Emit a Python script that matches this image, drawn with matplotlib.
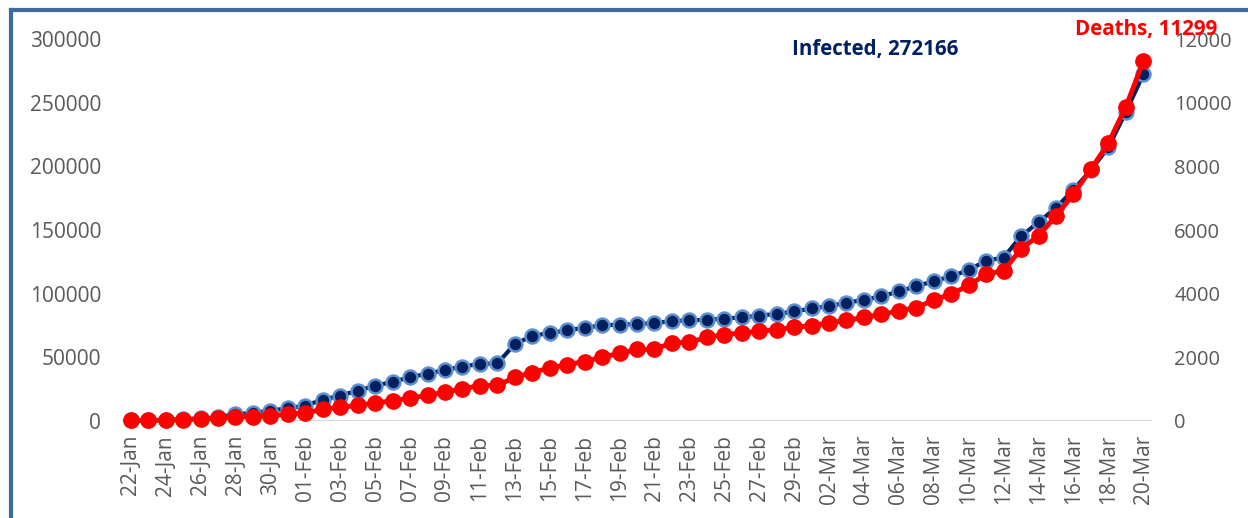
import matplotlib.pyplot as plt
from matplotlib.lines import Line2D
import numpy as np
import pandas as pd

# data: 22-Jan .. 20-Mar
dates = pd.date_range("2020-01-22", "2020-03-20", freq="D")
infected = [555, 654, 941, 1434, 2118, 2927, 5578, 6166, 8234, 9927,
            12038, 16787, 19881, 23892, 27635, 30794, 34391, 37120, 40150, 42762,
            44802, 45221, 60368, 66885, 69030, 71224, 73258, 75136, 75639, 76197,
            76819, 78572, 78958, 79561, 80406, 81388, 82746, 84112, 86011,
            88369, 90306, 92840, 95120, 97886, 101801, 105847, 109821, 113590, 118620,
            125875, 128352, 145205, 156101, 167454, 181574, 197102, 214821, 242570, 272166]
deaths = [17, 18, 26, 42, 56, 82, 131, 133, 171, 213,
          259, 362, 426, 492, 564, 634, 719, 806, 906, 1013,
          1113, 1118, 1371, 1523, 1666, 1770, 1868, 2007, 2122, 2247,
          2251, 2458, 2469, 2629, 2708, 2770, 2814, 2872, 2941,
          2996, 3085, 3160, 3254, 3348, 3460, 3558, 3802, 3988, 4262,
          4615, 4720, 5404, 5819, 6440, 7126, 7905, 8733, 9867, 11299]
date_labels = [d.strftime("%d-%b") for d in dates]

plt.rcParams["font.family"] = ["Open Sans", "DejaVu Sans"]
tick_color = "#595959"
navy = "#002060"
red = "#ff0000"

fig = plt.figure(figsize=(12.48, 5.18), dpi=100)
ax = fig.add_axes([122 / 1248, 97 / 518, 1030 / 1248, 382 / 518])
ax2 = ax.twinx()

x = np.arange(len(dates))

ax.plot(x, infected, color=navy, lw=3, marker="o", ms=10,
        mfc=navy, mec="#5b8fd0", mew=1.8, clip_on=False, zorder=3)
ax2.plot(x, deaths, color=red, lw=3.5, marker="o", ms=11,
         mfc=red, mec=red, clip_on=False, zorder=3)

ax.set_xlim(-0.5, len(dates) - 0.5)
ax.set_ylim(0, 300000)
ax2.set_ylim(0, 12000)
ax.set_yticks(np.arange(0, 300001, 50000))
ax2.set_yticks(np.arange(0, 12001, 2000))
ax.set_xticks(x[::2])
ax.set_xticklabels(date_labels[::2], rotation=90)

for a in (ax, ax2):
    for s in a.spines.values():
        s.set_visible(False)
    a.tick_params(length=0, labelsize=15, labelcolor=tick_color)
ax.tick_params(axis="y", pad=15)
ax.tick_params(axis="x", pad=10)
ax2.tick_params(axis="y", pad=16, labelsize=14.5)
ax.axhline(0, color="#d9d9d9", lw=1.5, zorder=1)

# data labels
fig.text(875 / 1248, 1 - 50 / 518, f"Infected, {infected[-1]}", color=navy,
         fontsize=14.8, fontweight="bold", ha="center", va="center")
fig.text(1146 / 1248, 1 - 30 / 518, f"Deaths, {deaths[-1]}", color=red,
         fontsize=14.8, fontweight="bold", ha="center", va="center", zorder=1)

# chart frame (top and left edges visible)
border = "#3d6a9e"
fig.add_artist(Line2D([11 / 1248, 11 / 1248], [0, 1 - 10 / 518],
                      transform=fig.transFigure, color=border, lw=3))
fig.add_artist(Line2D([11 / 1248, 1], [1 - 10 / 518, 1 - 10 / 518],
                      transform=fig.transFigure, color=border, lw=3))

fig.savefig("out.png", dpi=100)
